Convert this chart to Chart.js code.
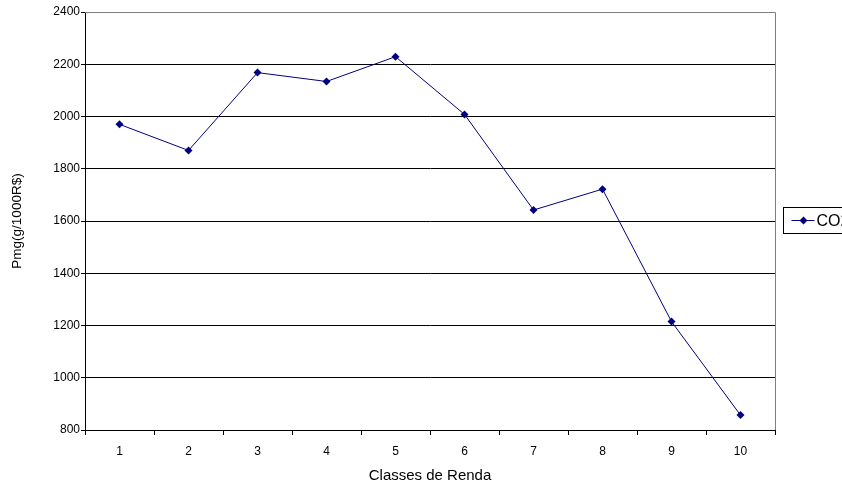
<!DOCTYPE html>
<html>
<head>
<meta charset="utf-8">
<script src="https://cdn.jsdelivr.net/npm/chart.js@4/dist/chart.umd.min.js"></script>
<style>
  html, body { margin: 0; padding: 0; background: #fff; overflow: hidden; }
  #wrap { width: 842px; height: 488px; }
</style>
</head>
<body>
<div id="wrap"><canvas id="chart" width="842" height="488"></canvas></div>
<script>
const classes = ["1", "2", "3", "4", "5", "6", "7", "8", "9", "10"];
const co2 = [1970, 1870, 2168, 2134, 2229, 2008, 1642, 1722, 1215, 857];
const seriesName = "CO2";
const yTitle = "Pmg(g/1000R$)";
const xTitle = "Classes de Renda";

const navy = "#000080";
const family = "'Liberation Sans', Arial, sans-serif";
const tickFont = { family, size: 12 };

// gray frame on top/right + the legend box (cut off by the page edge)
const framePlugin = {
    id: "frame",
    afterDraw(chart) {
        const { ctx, chartArea: a } = chart;
        ctx.save();
        ctx.strokeStyle = "#808080";
        ctx.lineWidth = 1;
        ctx.beginPath();
        ctx.moveTo(a.left, a.top + 0.5);
        ctx.lineTo(a.right + 0.5, a.top + 0.5);
        ctx.lineTo(a.right + 0.5, a.bottom);
        ctx.stroke();

        // legend
        const lx = a.right + 8.5, ly = (a.top + a.bottom) / 2 - 0.5;
        ctx.strokeStyle = "#000";
        ctx.strokeRect(lx, ly - 13, 120, 26);
        ctx.strokeStyle = navy;
        ctx.beginPath();
        ctx.moveTo(lx + 8, ly);
        ctx.lineTo(lx + 31, ly);
        ctx.stroke();
        ctx.fillStyle = navy;
        ctx.beginPath();
        ctx.moveTo(lx + 20, ly - 4);
        ctx.lineTo(lx + 24, ly);
        ctx.lineTo(lx + 20, ly + 4);
        ctx.lineTo(lx + 16, ly);
        ctx.closePath();
        ctx.fill();
        ctx.fillStyle = "#000";
        ctx.font = "16px " + family;
        ctx.textBaseline = "middle";
        ctx.fillText(seriesName, lx + 33, ly + 1);
        ctx.restore();
    }
};

new Chart(document.getElementById("chart"), {
    type: "line",
    data: {
        labels: classes,
        datasets: [{
            label: seriesName,
            data: co2,
            borderColor: navy,
            backgroundColor: navy,
            borderWidth: 1,
            pointStyle: "rectRot",
            pointRadius: 4,
            pointBorderWidth: 0,
            tension: 0
        }]
    },
    options: {
        responsive: false,
        animation: false,
        layout: { padding: { top: 12, right: 67, left: 0, bottom: 0 } },
        plugins: { legend: { display: false }, tooltip: { enabled: false } },
        scales: {
            x: {
                offset: true,
                grid: { display: true, offset: true, drawOnChartArea: false, drawTicks: true, tickLength: 5, color: "#000" },
                border: { color: "#000", width: 1 },
                ticks: { color: "#000", font: tickFont, padding: 9, maxRotation: 0 },
                title: { display: true, text: xTitle, color: "#000", font: { family, size: 15 }, padding: { top: 2, bottom: 3 } },
                afterFit(s) { s.height = 58; }
            },
            y: {
                min: 800,
                max: 2400,
                ticks: { stepSize: 200, color: "#000", font: tickFont, padding: 1, callback: v => String(v) },
                grid: { color: "#000", tickLength: 4, drawTicks: true },
                border: { color: "#000", width: 1 },
                title: { display: true, text: yTitle, color: "#000", font: { family, size: 13.5 }, padding: { top: 9, bottom: 0 } },
                afterFit(s) { s.width = 85; }
            }
        }
    },
    plugins: [framePlugin]
});
</script>
</body>
</html>
